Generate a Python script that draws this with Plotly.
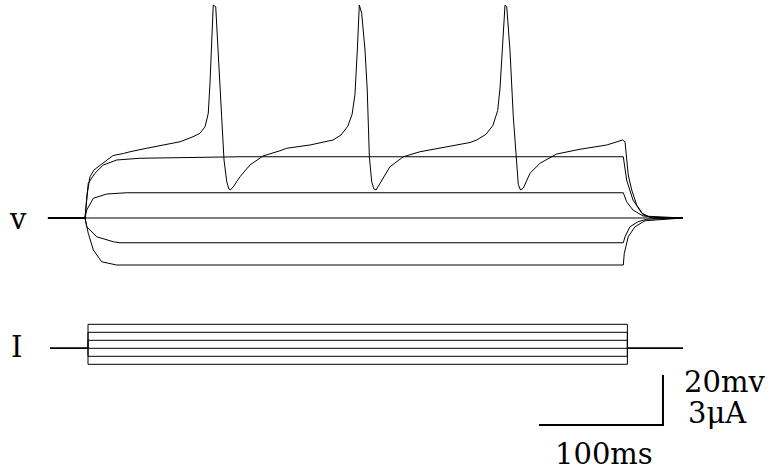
import plotly.graph_objects as go

# ---- data (time in ms, voltage in mV, current in uA) ----
v_rest = -65.0
step_on, step_off = 0.0, 435.0

# spiking trace (largest current step)
t_spk = [-32.3, -2.4, -0.8, 1.6, 4.8, 8.3, 15.1, 20.2, 28.5, 33.9, 47.3, 60.5, 74.2, 84.7,
         90.3, 94.4, 97.0, 98.4, 99.8, 101.0, 103.0, 105.1, 107.8, 109.7, 111.9, 113.5, 114.8, 117.2,
         122.6, 130.6, 141.1, 154.8, 160.2, 179.0, 197.6, 204.0, 209.5, 213.0, 215.3, 217.2, 218.8,
         220.7, 223.4, 225.2, 226.9, 228.8, 230.5, 232.3, 235.5, 243.5, 254.3, 267.7, 286.3, 300.0,
         308.1, 313.5, 321.0, 326.5, 330.4, 332.3, 334.4, 336.3, 337.7, 340.3, 343.0, 345.2, 347.0,
         348.8, 351.0, 356.5, 364.5, 378.0, 396.8, 418.3, 431.2, 433.1, 434.4, 435.7, 438.5, 442.5,
         447.9, 455.9, 479.8]
v_spk = [-65.0, -65.0, -55.8, -48.5, -45.8, -44.5, -41.8, -40.0, -39.2, -38.5, -37.1, -35.8,
         -34.5, -32.5, -31.1, -28.5, -23.1, -11.0, 9.0, 20.2, 19.5, 2.2, -24.5, -41.8, -50.5,
         -53.3, -53.8, -52.5, -48.5, -43.8, -40.2, -38.1, -37.1, -35.8, -33.8, -31.8, -28.3, -23.5,
         -15.5, 2.2, 20.2, 16.9, 2.2, -13.8, -40.5, -50.5, -53.3, -53.8, -51.0, -44.5, -40.5, -38.5,
         -36.8, -35.4, -34.8, -33.8, -31.5, -28.0, -22.0, -13.0, 2.2, 20.2, 19.5, 2.2, -24.5, -41.8,
         -51.5, -53.8, -53.1, -47.1, -43.1, -39.4, -37.5, -35.8, -33.8, -34.5, -43.0, -47.8, -53.8,
         -59.8, -63.8, -65.1, -65.0]

# sub-threshold depolarised trace (plateau near -40.5 mV)
t_dep2 = [-32.3, -2.4, 0.2, 5.6, 12.3, 23.1, 41.9, 122.6, 431.7, 434.4, 439.5, 446.5, 453.2, 479.8]
v_dep2 = [-65.0, -65.0, -51.1, -47.1, -43.8, -41.8, -41.1, -40.5, -40.5, -49.8, -57.8, -63.0, -64.7, -65.0]

# small depolarised trace
t_dep1 = [-32.3, -2.4, -1.0, 4.3, 15.1, 31.2, 431.7, 434.4, 439.5, 447.6, 479.8]
v_dep1 = [-65.0, -65.0, -61.8, -57.1, -55.4, -54.9, -54.9, -58.5, -61.8, -64.2, -65.0]

# zero-current trace
t_zero = [-32.3, 479.8]
v_zero = [-65.0, -65.0]

# small hyperpolarised trace
t_hyp1 = [-32.3, -2.4, -1.0, 7.0, 20.4, 25.8, 431.7, 433.1, 437.1, 443.5, 450.6, 479.8]
v_hyp1 = [-65.0, -65.0, -68.5, -72.5, -74.5, -74.9, -74.9, -72.5, -68.5, -66.5, -65.5, -65.0]

# large hyperpolarised trace
t_hyp2 = [-32.3, -2.4, 0.2, 4.3, 11.0, 23.1, 431.7, 432.5, 435.7, 441.1, 449.2, 479.8]
v_hyp2 = [-65.0, -65.0, -71.1, -77.8, -82.5, -83.8, -83.8, -79.1, -72.5, -68.5, -66.1, -65.0]

# injected current steps (uA)
i_levels = [-1.0, -0.5, 0.0, 0.5, 1.0, 1.5]
t_i_start, t_i_end = -30.5, 479.8

# scale bar
scale_ms = 100
scale_mv = 20
scale_t0 = 363.7
scale_v0 = -147.8

# ---- figure ----
fig = go.Figure()
line = dict(color="black", width=1)
for tt, vv in [(t_zero, v_zero), (t_hyp2, v_hyp2), (t_hyp1, v_hyp1), (t_dep1, v_dep1),
               (t_dep2, v_dep2), (t_spk, v_spk)]:
    fig.add_trace(go.Scatter(x=tt, y=vv, mode="lines", line=line, hoverinfo="skip"))

for lvl in i_levels:
    fig.add_trace(go.Scatter(
        x=[t_i_start, step_on, step_on, step_off, step_off, t_i_end],
        y=[0, 0, lvl, lvl, 0, 0],
        mode="lines", line=line, yaxis="y2", hoverinfo="skip"))

fig.add_trace(go.Scatter(
    x=[scale_t0, scale_t0 + scale_ms, scale_t0 + scale_ms],
    y=[scale_v0, scale_v0, scale_v0 + scale_mv],
    mode="lines", line=dict(color="black", width=2), hoverinfo="skip"))

W, H = 768, 474
font = dict(family="DejaVu Serif", size=29, color="black")
labels = [("v", 7, 219), ("I", 9, 347), ("20mv", 682, 382), ("3\u03bcA", 686, 413), ("100ms", 553, 454)]
for txt, px, py in labels:
    fig.add_annotation(text=txt, x=px / W, y=1 - py / H, xref="paper", yref="paper",
                       xanchor="left", yanchor="middle", showarrow=False, font=font)

fig.update_layout(
    width=W, height=H, margin=dict(l=0, r=0, t=0, b=0),
    paper_bgcolor="white", plot_bgcolor="white", showlegend=False,
    xaxis=dict(range=[-70.97, 548.4], visible=False, fixedrange=True),
    yaxis=dict(range=[-167.4, 22.2], visible=False, fixedrange=True),
    yaxis2=dict(range=[-7.856, 21.77], visible=False, overlaying="y", fixedrange=True),
    hovermode=False,
)
fig.write_html("out.html", config={"displayModeBar": False})
